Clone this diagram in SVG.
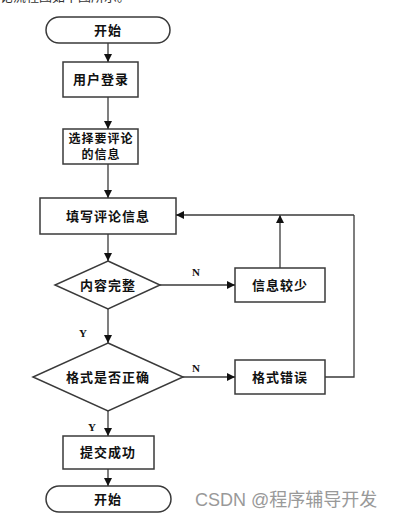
<svg xmlns="http://www.w3.org/2000/svg" width="402" height="518" viewBox="0 0 402 518">
<style>
.s{fill:#fff;stroke:#3a3a3a;stroke-width:1.5}
.t{font-family:"Noto Sans CJK SC","Liberation Serif",sans-serif;font-weight:bold;font-size:13px;fill:#111;text-anchor:middle;letter-spacing:1px}
.t2{font-size:12px}
.l{font-family:"Liberation Serif",serif;font-weight:bold;font-size:11px;fill:#111}
.c{fill:none;stroke:#3a3a3a;stroke-width:1.3}
</style>
<defs>
<marker id="a" viewBox="0 0 10 10" refX="10" refY="5" markerWidth="8" markerHeight="8" markerUnits="userSpaceOnUse" orient="auto">
<path d="M0,0L10,5L0,10z" fill="#111"/>
</marker>
</defs>
<rect width="402" height="518" fill="#fff"/>
<text x="0" y="1" font-family="Noto Sans CJK SC,sans-serif" font-size="13" fill="#333">论流程图如下图所示。</text>
<g id="start"><rect class="s" x="46" y="17" width="124" height="26" rx="13"/><text class="t" x="108" y="35">开始</text></g>
<g id="login"><rect class="s" x="63" y="62" width="75" height="35"/><text class="t" x="101" y="84">用户登录</text></g>
<g id="select"><rect class="s" x="63" y="129" width="75" height="35"/><text class="t t2" x="101" y="143">选择要评论</text><text class="t t2" x="101" y="159">的信息</text></g>
<g id="fill"><rect class="s" x="40" y="198" width="136" height="36"/><text class="t" x="108" y="221">填写评论信息</text></g>
<g id="complete"><path class="s" d="M108,261L160,285L108,309L55,285z"/><text class="t" x="108" y="290">内容完整</text></g>
<g id="less"><rect class="s" x="235" y="268" width="90" height="34"/><text class="t" x="280" y="290">信息较少</text></g>
<g id="format"><path class="s" d="M108,343L183,377L108,411L33,377z"/><text class="t" x="108" y="382">格式是否正确</text></g>
<g id="err"><rect class="s" x="235" y="360" width="90" height="34"/><text class="t" x="280" y="382">格式错误</text></g>
<g id="ok"><rect class="s" x="63" y="436" width="91" height="33"/><text class="t" x="108" y="457">提交成功</text></g>
<g id="end"><rect class="s" x="46" y="486" width="125" height="26" rx="13"/><text class="t" x="108" y="504">开始</text></g>
<g id="connectors">
<line class="c" x1="108" y1="43" x2="108" y2="62" marker-end="url(#a)"/>
<line class="c" x1="108" y1="97" x2="108" y2="129" marker-end="url(#a)"/>
<line class="c" x1="108" y1="164" x2="108" y2="198" marker-end="url(#a)"/>
<line class="c" x1="108" y1="234" x2="108" y2="261" marker-end="url(#a)"/>
<line class="c" x1="160" y1="285" x2="235" y2="285" marker-end="url(#a)"/>
<line class="c" x1="280" y1="268" x2="280" y2="215" marker-end="url(#a)"/>
<polyline class="c" points="354,215 176,215" marker-end="url(#a)"/>
<line class="c" x1="108" y1="309" x2="108" y2="343" marker-end="url(#a)"/>
<line class="c" x1="183" y1="377" x2="235" y2="377" marker-end="url(#a)"/>
<polyline class="c" points="325,377 354,377 354,215"/>
<line class="c" x1="108" y1="411" x2="108" y2="436" marker-end="url(#a)"/>
<line class="c" x1="108" y1="469" x2="108" y2="486" marker-end="url(#a)"/>
</g>
<text class="l" x="192" y="276">N</text>
<text class="l" x="192" y="372">N</text>
<text class="l" x="79" y="337">Y</text>
<text class="l" x="88" y="431">Y</text>
<text x="195" y="506" font-family="Liberation Sans,Noto Sans CJK SC,sans-serif" font-size="18" fill="#999">CSDN @<tspan font-family="Noto Sans CJK SC,sans-serif">程序辅导开发</tspan></text>
</svg>
